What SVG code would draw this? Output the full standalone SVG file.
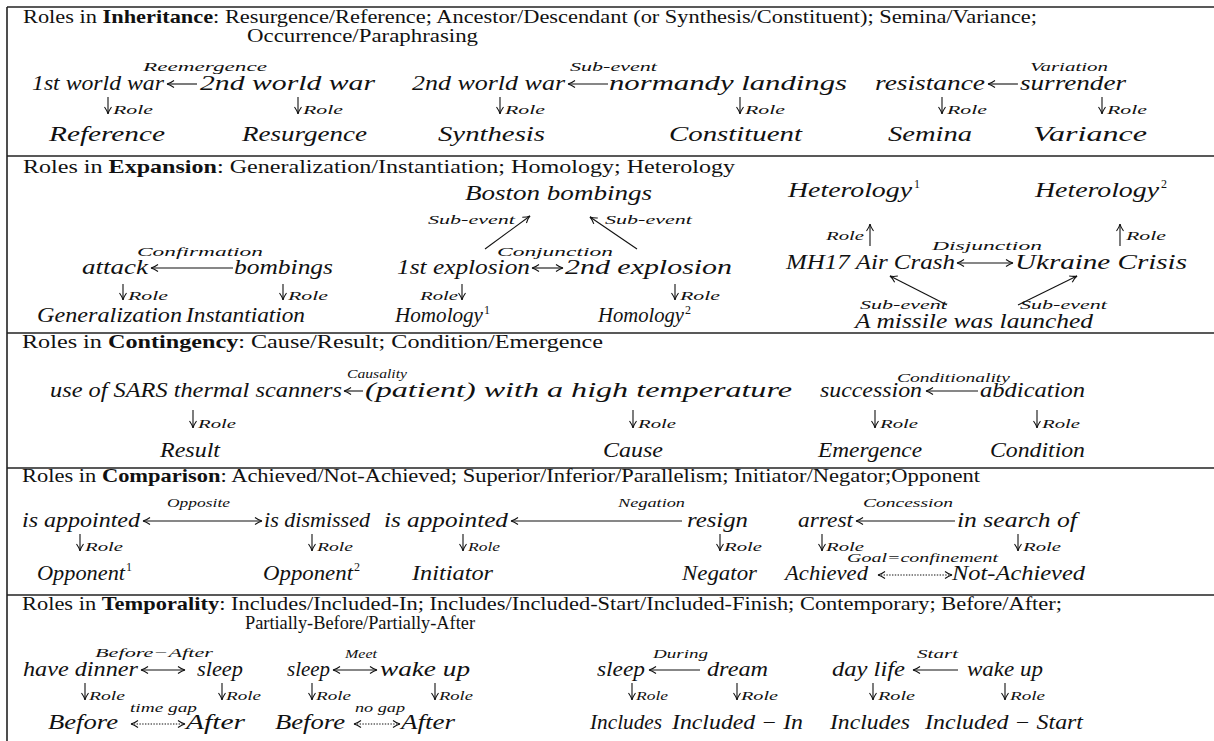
<svg xmlns="http://www.w3.org/2000/svg" width="1214" height="741" viewBox="0 0 1214 741">
<style>
.h{font-family:"Liberation Serif",serif;font-size:19px;fill:#111}
.n{font-family:"Liberation Serif",serif;font-style:italic;font-size:20px;fill:#111}
.l{font-family:"Liberation Serif",serif;font-style:italic;font-size:12.5px;fill:#111}
.s{font-family:"Liberation Serif",serif;font-size:12px;fill:#111}
.fr{stroke:#222;stroke-width:1.6;fill:none}
.c{stroke:#111;stroke-width:1.1;fill:none}
.e{marker-end:url(#ah)}
.b{marker-start:url(#as);marker-end:url(#ah)}
.d{stroke-dasharray:1.4 1.4}
</style>
<defs>
<marker id="ah" viewBox="-8 -5 10 10" refX="0" refY="0" markerWidth="10" markerHeight="10" markerUnits="userSpaceOnUse" orient="auto"><path d="M-7,-3.5 Q-3,-0.6 0,0 Q-3,0.6 -7,3.5" fill="none" stroke="#111" stroke-width="1.1"/></marker>
<marker id="as" viewBox="-8 -5 10 10" refX="0" refY="0" markerWidth="10" markerHeight="10" markerUnits="userSpaceOnUse" orient="auto-start-reverse"><path d="M-7,-3.5 Q-3,-0.6 0,0 Q-3,0.6 -7,3.5" fill="none" stroke="#111" stroke-width="1.1"/></marker>
</defs>
<rect width="1214" height="741" fill="#fff"/>
<g id="frame">
<line class="fr" x1="7" y1="7" x2="1214" y2="7"/>
<line class="fr" x1="7" y1="7" x2="7" y2="741"/>
<line class="fr" x1="7" y1="156" x2="1214" y2="156"/>
<line class="fr" x1="7" y1="333" x2="1214" y2="333"/>
<line class="fr" x1="7" y1="468" x2="1214" y2="468"/>
<line class="fr" x1="7" y1="595" x2="1214" y2="595"/>
</g>
<g id="headers">
<text class="h" x="23" y="23" textLength="1014" lengthAdjust="spacingAndGlyphs">Roles in <tspan font-weight="bold">Inheritance</tspan>: Resurgence/Reference; Ancestor/Descendant (or Synthesis/Constituent); Semina/Variance;</text>
<text class="h" x="247" y="42" textLength="231" lengthAdjust="spacingAndGlyphs">Occurrence/Paraphrasing</text>
<text class="h" x="23" y="173" textLength="712" lengthAdjust="spacingAndGlyphs">Roles in <tspan font-weight="bold">Expansion</tspan>: Generalization/Instantiation; Homology; Heterology</text>
<text class="h" x="22" y="348" textLength="581" lengthAdjust="spacingAndGlyphs">Roles in <tspan font-weight="bold">Contingency</tspan>: Cause/Result; Condition/Emergence</text>
<text class="h" x="22" y="482" textLength="958" lengthAdjust="spacingAndGlyphs">Roles in <tspan font-weight="bold">Comparison</tspan>: Achieved/Not-Achieved; Superior/Inferior/Parallelism; Initiator/Negator;Opponent</text>
<text class="h" x="22" y="610" textLength="1040" lengthAdjust="spacingAndGlyphs">Roles in <tspan font-weight="bold">Temporality</tspan>: Includes/Included-In; Includes/Included-Start/Included-Finish; Contemporary; Before/After;</text>
<text class="h" x="245" y="629" textLength="230" lengthAdjust="spacingAndGlyphs">Partially-Before/Partially-After</text>
</g>
<g id="connectors">
<line class="c e" x1="197" y1="84" x2="167" y2="84"/>
<line class="c e" x1="608" y1="84" x2="568" y2="84"/>
<line class="c e" x1="1018" y1="84" x2="988" y2="84"/>
<line class="c e" x1="108" y1="97" x2="108" y2="114"/>
<line class="c e" x1="298" y1="97" x2="298" y2="114"/>
<line class="c e" x1="500" y1="97" x2="500" y2="114"/>
<line class="c e" x1="740" y1="97" x2="740" y2="114"/>
<line class="c e" x1="942" y1="97" x2="942" y2="114"/>
<line class="c e" x1="1102" y1="97" x2="1102" y2="114"/>
<line class="c e" x1="233" y1="268" x2="151" y2="268"/>
<line class="c b" x1="532" y1="268" x2="563" y2="268"/>
<line class="c b" x1="957" y1="263" x2="1013" y2="263"/>
<line class="c e" x1="485" y1="249" x2="530" y2="216"/>
<line class="c e" x1="637" y1="249" x2="590" y2="217"/>
<line class="c e" x1="947" y1="305" x2="890" y2="276"/>
<line class="c e" x1="1018" y1="305" x2="1077" y2="276"/>
<line class="c e" x1="870" y1="246" x2="870" y2="224"/>
<line class="c e" x1="1120" y1="246" x2="1120" y2="224"/>
<line class="c e" x1="123" y1="284" x2="123" y2="300"/>
<line class="c e" x1="283" y1="284" x2="283" y2="300"/>
<line class="c e" x1="462" y1="284" x2="462" y2="300"/>
<line class="c e" x1="675" y1="284" x2="675" y2="300"/>
<line class="c e" x1="363" y1="391" x2="344" y2="391"/>
<line class="c e" x1="978" y1="391" x2="926" y2="391"/>
<line class="c e" x1="193" y1="410" x2="193" y2="428"/>
<line class="c e" x1="633" y1="410" x2="633" y2="428"/>
<line class="c e" x1="875" y1="410" x2="875" y2="428"/>
<line class="c e" x1="1037" y1="410" x2="1037" y2="428"/>
<line class="c b" x1="143" y1="521" x2="262" y2="521"/>
<line class="c e" x1="682" y1="521" x2="511" y2="521"/>
<line class="c e" x1="955" y1="521" x2="856" y2="521"/>
<line class="c e" x1="80" y1="534" x2="80" y2="551"/>
<line class="c e" x1="312" y1="534" x2="312" y2="551"/>
<line class="c e" x1="463" y1="534" x2="463" y2="551"/>
<line class="c e" x1="720" y1="534" x2="720" y2="551"/>
<line class="c e" x1="822" y1="534" x2="822" y2="551"/>
<line class="c e" x1="1018" y1="534" x2="1018" y2="551"/>
<line class="c b d" x1="878" y1="575" x2="952" y2="575"/>
<line class="c b" x1="141" y1="670" x2="185" y2="670"/>
<line class="c b" x1="333" y1="670" x2="377" y2="670"/>
<line class="c e" x1="700" y1="670" x2="649" y2="670"/>
<line class="c e" x1="958" y1="670" x2="913" y2="670"/>
<line class="c e" x1="85" y1="683" x2="85" y2="700"/>
<line class="c e" x1="222" y1="683" x2="222" y2="700"/>
<line class="c e" x1="312" y1="683" x2="312" y2="700"/>
<line class="c e" x1="435" y1="683" x2="435" y2="700"/>
<line class="c e" x1="632" y1="683" x2="632" y2="700"/>
<line class="c e" x1="737" y1="683" x2="737" y2="700"/>
<line class="c e" x1="873" y1="683" x2="873" y2="700"/>
<line class="c e" x1="1005" y1="683" x2="1005" y2="700"/>
<line class="c b d" x1="131" y1="724" x2="185" y2="724"/>
<line class="c b d" x1="354" y1="724" x2="400" y2="724"/>
</g>
<g id="edge-labels">
<text class="l" x="143" y="71" textLength="124" lengthAdjust="spacingAndGlyphs">Reemergence</text>
<text class="l" x="570" y="71" textLength="87" lengthAdjust="spacingAndGlyphs">Sub-event</text>
<text class="l" x="1030" y="71" textLength="78" lengthAdjust="spacingAndGlyphs">Variation</text>
<text class="l" x="137" y="256" textLength="126" lengthAdjust="spacingAndGlyphs">Confirmation</text>
<text class="l" x="497" y="256" textLength="116" lengthAdjust="spacingAndGlyphs">Conjunction</text>
<text class="l" x="932" y="250" textLength="110" lengthAdjust="spacingAndGlyphs">Disjunction</text>
<text class="l" x="428" y="224" textLength="87" lengthAdjust="spacingAndGlyphs">Sub-event</text>
<text class="l" x="605" y="224" textLength="87" lengthAdjust="spacingAndGlyphs">Sub-event</text>
<text class="l" x="860" y="309" textLength="87" lengthAdjust="spacingAndGlyphs">Sub-event</text>
<text class="l" x="1020" y="309" textLength="87" lengthAdjust="spacingAndGlyphs">Sub-event</text>
<text class="l" x="347" y="378" textLength="60" lengthAdjust="spacingAndGlyphs">Causality</text>
<text class="l" x="897" y="382" textLength="113" lengthAdjust="spacingAndGlyphs">Conditionality</text>
<text class="l" x="167" y="507" textLength="63" lengthAdjust="spacingAndGlyphs">Opposite</text>
<text class="l" x="618" y="507" textLength="67" lengthAdjust="spacingAndGlyphs">Negation</text>
<text class="l" x="863" y="507" textLength="90" lengthAdjust="spacingAndGlyphs">Concession</text>
<text class="l" x="847" y="562" textLength="151" lengthAdjust="spacingAndGlyphs">Goal=confinement</text>
<text class="l" x="95" y="657" textLength="118" lengthAdjust="spacingAndGlyphs">Before−After</text>
<text class="l" x="345" y="658" textLength="32" lengthAdjust="spacingAndGlyphs">Meet</text>
<text class="l" x="653" y="658" textLength="55" lengthAdjust="spacingAndGlyphs">During</text>
<text class="l" x="917" y="658" textLength="41" lengthAdjust="spacingAndGlyphs">Start</text>
<text class="l" x="130" y="712" textLength="67" lengthAdjust="spacingAndGlyphs">time gap</text>
<text class="l" x="355" y="712" textLength="50" lengthAdjust="spacingAndGlyphs">no gap</text>
</g>
<g id="role-labels">
<text class="l" x="113" y="114" textLength="40" lengthAdjust="spacingAndGlyphs">Role</text>
<text class="l" x="303" y="114" textLength="40" lengthAdjust="spacingAndGlyphs">Role</text>
<text class="l" x="505" y="114" textLength="40" lengthAdjust="spacingAndGlyphs">Role</text>
<text class="l" x="745" y="114" textLength="40" lengthAdjust="spacingAndGlyphs">Role</text>
<text class="l" x="947" y="114" textLength="40" lengthAdjust="spacingAndGlyphs">Role</text>
<text class="l" x="1107" y="114" textLength="40" lengthAdjust="spacingAndGlyphs">Role</text>
<text class="l" x="128" y="300" textLength="40" lengthAdjust="spacingAndGlyphs">Role</text>
<text class="l" x="288" y="300" textLength="40" lengthAdjust="spacingAndGlyphs">Role</text>
<text class="l" x="420" y="300" textLength="38" lengthAdjust="spacingAndGlyphs">Role</text>
<text class="l" x="680" y="300" textLength="40" lengthAdjust="spacingAndGlyphs">Role</text>
<text class="l" x="826" y="240" textLength="38" lengthAdjust="spacingAndGlyphs">Role</text>
<text class="l" x="1126" y="240" textLength="40" lengthAdjust="spacingAndGlyphs">Role</text>
<text class="l" x="198" y="428" textLength="38" lengthAdjust="spacingAndGlyphs">Role</text>
<text class="l" x="638" y="428" textLength="38" lengthAdjust="spacingAndGlyphs">Role</text>
<text class="l" x="880" y="428" textLength="38" lengthAdjust="spacingAndGlyphs">Role</text>
<text class="l" x="1042" y="428" textLength="38" lengthAdjust="spacingAndGlyphs">Role</text>
<text class="l" x="85" y="551" textLength="38" lengthAdjust="spacingAndGlyphs">Role</text>
<text class="l" x="317" y="551" textLength="36" lengthAdjust="spacingAndGlyphs">Role</text>
<text class="l" x="468" y="551" textLength="32" lengthAdjust="spacingAndGlyphs">Role</text>
<text class="l" x="724" y="551" textLength="38" lengthAdjust="spacingAndGlyphs">Role</text>
<text class="l" x="826" y="551" textLength="38" lengthAdjust="spacingAndGlyphs">Role</text>
<text class="l" x="1023" y="551" textLength="38" lengthAdjust="spacingAndGlyphs">Role</text>
<text class="l" x="89" y="700" textLength="36" lengthAdjust="spacingAndGlyphs">Role</text>
<text class="l" x="226" y="700" textLength="35" lengthAdjust="spacingAndGlyphs">Role</text>
<text class="l" x="316" y="700" textLength="35" lengthAdjust="spacingAndGlyphs">Role</text>
<text class="l" x="439" y="700" textLength="34" lengthAdjust="spacingAndGlyphs">Role</text>
<text class="l" x="636" y="700" textLength="32" lengthAdjust="spacingAndGlyphs">Role</text>
<text class="l" x="741" y="700" textLength="37" lengthAdjust="spacingAndGlyphs">Role</text>
<text class="l" x="878" y="700" textLength="37" lengthAdjust="spacingAndGlyphs">Role</text>
<text class="l" x="1010" y="700" textLength="35" lengthAdjust="spacingAndGlyphs">Role</text>
</g>
<g id="n-1st-world-war"><text class="n" x="32" y="90" textLength="132" lengthAdjust="spacingAndGlyphs">1st world war</text></g>
<g id="n-2nd-world-war-a"><text class="n" x="200" y="90" textLength="175" lengthAdjust="spacingAndGlyphs">2nd world war</text></g>
<g id="n-2nd-world-war-b"><text class="n" x="412" y="90" textLength="153" lengthAdjust="spacingAndGlyphs">2nd world war</text></g>
<g id="n-normandy"><text class="n" x="609" y="90" textLength="238" lengthAdjust="spacingAndGlyphs">normandy landings</text></g>
<g id="n-resistance"><text class="n" x="875" y="90" textLength="110" lengthAdjust="spacingAndGlyphs">resistance</text></g>
<g id="n-surrender"><text class="n" x="1020" y="90" textLength="106" lengthAdjust="spacingAndGlyphs">surrender</text></g>
<g id="n-reference"><text class="n" x="49" y="141" textLength="116" lengthAdjust="spacingAndGlyphs">Reference</text></g>
<g id="n-resurgence"><text class="n" x="242" y="141" textLength="125" lengthAdjust="spacingAndGlyphs">Resurgence</text></g>
<g id="n-synthesis"><text class="n" x="438" y="141" textLength="107" lengthAdjust="spacingAndGlyphs">Synthesis</text></g>
<g id="n-constituent"><text class="n" x="669" y="141" textLength="133" lengthAdjust="spacingAndGlyphs">Constituent</text></g>
<g id="n-semina"><text class="n" x="888" y="141" textLength="84" lengthAdjust="spacingAndGlyphs">Semina</text></g>
<g id="n-variance"><text class="n" x="1033" y="141" textLength="114" lengthAdjust="spacingAndGlyphs">Variance</text></g>
<g id="n-boston"><text class="n" x="465" y="200" textLength="187" lengthAdjust="spacingAndGlyphs">Boston bombings</text></g>
<g id="n-heterology1"><text class="n" x="788" y="197" textLength="124" lengthAdjust="spacingAndGlyphs">Heterology</text><text class="s" x="914" y="188">1</text></g>
<g id="n-heterology2"><text class="n" x="1035" y="197" textLength="124" lengthAdjust="spacingAndGlyphs">Heterology</text><text class="s" x="1161" y="188">2</text></g>
<g id="n-attack"><text class="n" x="82" y="274" textLength="66" lengthAdjust="spacingAndGlyphs">attack</text></g>
<g id="n-bombings"><text class="n" x="234" y="274" textLength="99" lengthAdjust="spacingAndGlyphs">bombings</text></g>
<g id="n-1st-explosion"><text class="n" x="397" y="274" textLength="133" lengthAdjust="spacingAndGlyphs">1st explosion</text></g>
<g id="n-2nd-explosion"><text class="n" x="565" y="274" textLength="167" lengthAdjust="spacingAndGlyphs">2nd explosion</text></g>
<g id="n-mh17"><text class="n" x="786" y="269" textLength="169" lengthAdjust="spacingAndGlyphs">MH17 Air Crash</text></g>
<g id="n-ukraine"><text class="n" x="1015" y="269" textLength="172" lengthAdjust="spacingAndGlyphs">Ukraine Crisis</text></g>
<g id="n-generalization"><text class="n" x="37" y="322" textLength="145" lengthAdjust="spacingAndGlyphs">Generalization</text></g>
<g id="n-instantiation"><text class="n" x="186" y="322" textLength="119" lengthAdjust="spacingAndGlyphs">Instantiation</text></g>
<g id="n-homology1"><text class="n" x="395" y="322" textLength="88" lengthAdjust="spacingAndGlyphs">Homology</text><text class="s" x="484" y="314">1</text></g>
<g id="n-homology2"><text class="n" x="598" y="322" textLength="86" lengthAdjust="spacingAndGlyphs">Homology</text><text class="s" x="685" y="314">2</text></g>
<g id="n-missile"><text class="n" x="855" y="328" textLength="238" lengthAdjust="spacingAndGlyphs">A missile was launched</text></g>
<g id="n-sars"><text class="n" x="50" y="397" textLength="292" lengthAdjust="spacingAndGlyphs">use of SARS thermal scanners</text></g>
<g id="n-patient"><text class="n" x="365" y="397" textLength="427" lengthAdjust="spacingAndGlyphs">(patient) with a high temperature</text></g>
<g id="n-succession"><text class="n" x="820" y="397" textLength="102" lengthAdjust="spacingAndGlyphs">succession</text></g>
<g id="n-abdication"><text class="n" x="980" y="397" textLength="105" lengthAdjust="spacingAndGlyphs">abdication</text></g>
<g id="n-result"><text class="n" x="160" y="457" textLength="60" lengthAdjust="spacingAndGlyphs">Result</text></g>
<g id="n-cause"><text class="n" x="603" y="457" textLength="60" lengthAdjust="spacingAndGlyphs">Cause</text></g>
<g id="n-emergence"><text class="n" x="818" y="457" textLength="104" lengthAdjust="spacingAndGlyphs">Emergence</text></g>
<g id="n-condition"><text class="n" x="990" y="457" textLength="95" lengthAdjust="spacingAndGlyphs">Condition</text></g>
<g id="n-appointed-a"><text class="n" x="22" y="527" textLength="118" lengthAdjust="spacingAndGlyphs">is appointed</text></g>
<g id="n-dismissed"><text class="n" x="264" y="527" textLength="106" lengthAdjust="spacingAndGlyphs">is dismissed</text></g>
<g id="n-appointed-b"><text class="n" x="384" y="527" textLength="124" lengthAdjust="spacingAndGlyphs">is appointed</text></g>
<g id="n-resign"><text class="n" x="687" y="527" textLength="61" lengthAdjust="spacingAndGlyphs">resign</text></g>
<g id="n-arrest"><text class="n" x="798" y="527" textLength="55" lengthAdjust="spacingAndGlyphs">arrest</text></g>
<g id="n-in-search-of"><text class="n" x="957" y="527" textLength="120" lengthAdjust="spacingAndGlyphs">in search of</text></g>
<g id="n-opponent1"><text class="n" x="37" y="580" textLength="88" lengthAdjust="spacingAndGlyphs">Opponent</text><text class="s" x="126" y="571">1</text></g>
<g id="n-opponent2"><text class="n" x="263" y="580" textLength="90" lengthAdjust="spacingAndGlyphs">Opponent</text><text class="s" x="354" y="571">2</text></g>
<g id="n-initiator"><text class="n" x="412" y="580" textLength="81" lengthAdjust="spacingAndGlyphs">Initiator</text></g>
<g id="n-negator"><text class="n" x="682" y="580" textLength="75" lengthAdjust="spacingAndGlyphs">Negator</text></g>
<g id="n-achieved"><text class="n" x="785" y="580" textLength="83" lengthAdjust="spacingAndGlyphs">Achieved</text></g>
<g id="n-not-achieved"><text class="n" x="952" y="580" textLength="133" lengthAdjust="spacingAndGlyphs">Not-Achieved</text></g>
<g id="n-have-dinner"><text class="n" x="23" y="676" textLength="115" lengthAdjust="spacingAndGlyphs">have dinner</text></g>
<g id="n-sleep-a"><text class="n" x="197" y="676" textLength="46" lengthAdjust="spacingAndGlyphs">sleep</text></g>
<g id="n-sleep-b"><text class="n" x="287" y="676" textLength="43" lengthAdjust="spacingAndGlyphs">sleep</text></g>
<g id="n-wake-up-a"><text class="n" x="380" y="676" textLength="90" lengthAdjust="spacingAndGlyphs">wake up</text></g>
<g id="n-sleep-c"><text class="n" x="597" y="676" textLength="48" lengthAdjust="spacingAndGlyphs">sleep</text></g>
<g id="n-dream"><text class="n" x="707" y="676" textLength="61" lengthAdjust="spacingAndGlyphs">dream</text></g>
<g id="n-day-life"><text class="n" x="832" y="676" textLength="73" lengthAdjust="spacingAndGlyphs">day life</text></g>
<g id="n-wake-up-b"><text class="n" x="967" y="676" textLength="76" lengthAdjust="spacingAndGlyphs">wake up</text></g>
<g id="n-before-a"><text class="n" x="48" y="729" textLength="70" lengthAdjust="spacingAndGlyphs">Before</text></g>
<g id="n-after-a"><text class="n" x="186" y="729" textLength="59" lengthAdjust="spacingAndGlyphs">After</text></g>
<g id="n-before-b"><text class="n" x="275" y="729" textLength="70" lengthAdjust="spacingAndGlyphs">Before</text></g>
<g id="n-after-b"><text class="n" x="401" y="729" textLength="54" lengthAdjust="spacingAndGlyphs">After</text></g>
<g id="n-includes-a"><text class="n" x="590" y="729" textLength="72" lengthAdjust="spacingAndGlyphs">Includes</text></g>
<g id="n-included-in"><text class="n" x="672" y="729" textLength="131" lengthAdjust="spacingAndGlyphs">Included − In</text></g>
<g id="n-includes-b"><text class="n" x="830" y="729" textLength="80" lengthAdjust="spacingAndGlyphs">Includes</text></g>
<g id="n-included-start"><text class="n" x="925" y="729" textLength="158" lengthAdjust="spacingAndGlyphs">Included − Start</text></g>
</svg>
